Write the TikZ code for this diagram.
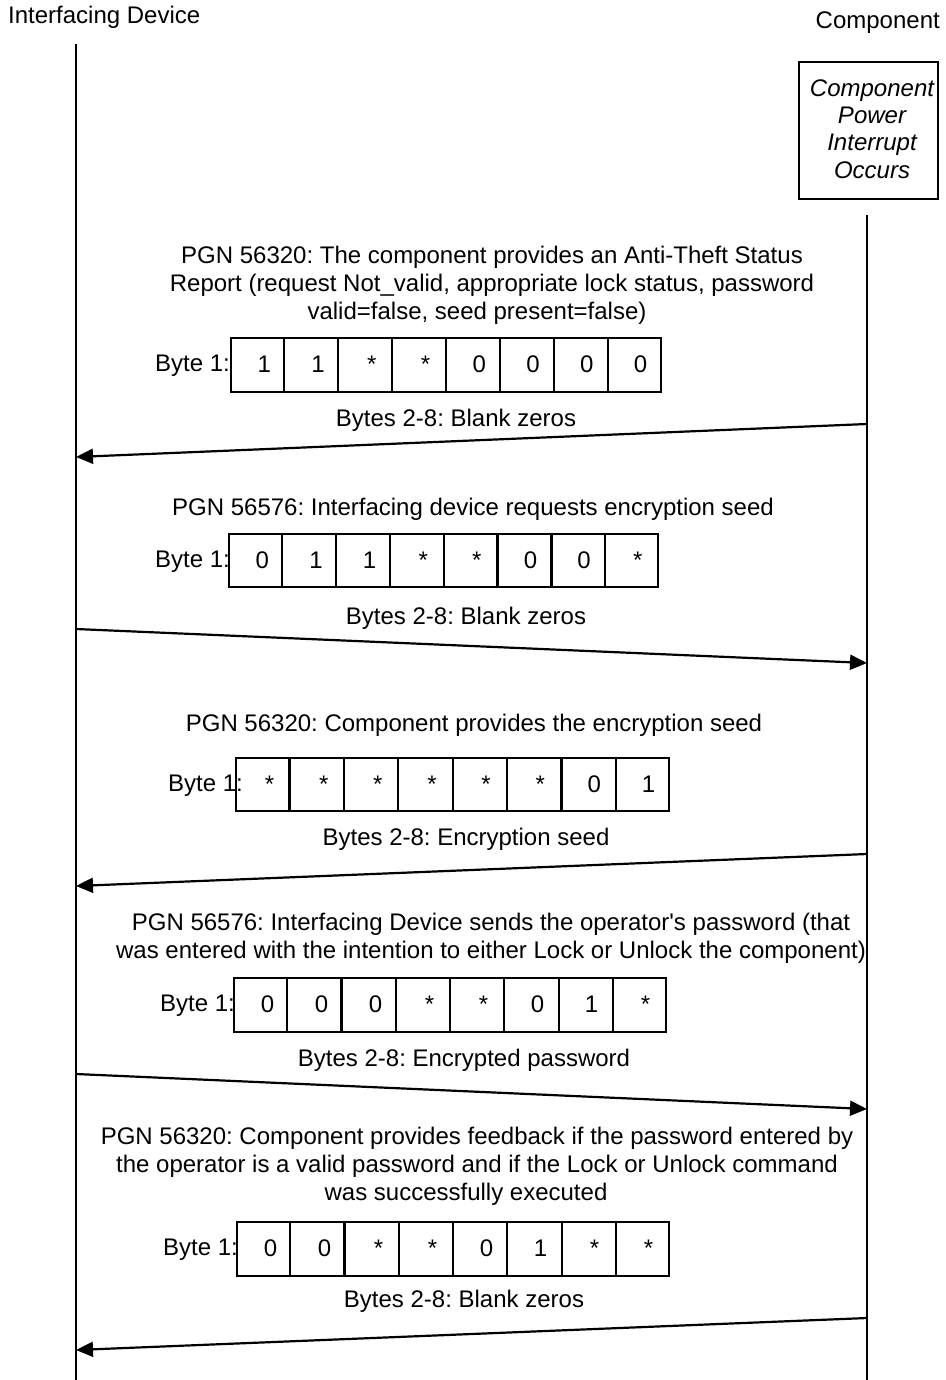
\documentclass[tikz,border=0pt]{standalone}
\usepackage{fontspec}
\setmainfont{Liberation Sans}
\usetikzlibrary{arrows.meta,calc}
\newcommand\bytebox[7]{%
  % #1 name, #2 x0, #3 y0, #4 width, #5 height, #6 values, #7 label x
  \node[cellbox, minimum width=#4pt, minimum height=#5pt, anchor=north west] (#1) at (#2,#3) {};
  \foreach \k in {1,...,7}
    \draw[boxline] ($(#1.north west)!\k/8!(#1.north east)$) -- ($(#1.south west)!\k/8!(#1.south east)$);
  \foreach \v [count=\k] in {#6}
    \node[txt, anchor=base] (#1v\k) at ({#2+(\k-0.5)*#4/8+7.5},{#3+#5/2+8.6}) {\v};
  \node[txt, anchor=base west] (#1lbl) at (#7,{#3+#5/2+7.5}) {Byte 1:};
}
\begin{document}
\frenchspacing
\begin{tikzpicture}[x=1pt,y=-1pt,
  txt/.style={font=\fontsize{24}{28}\selectfont, inner sep=0pt},
  life/.style={line width=2.6pt},
  boxline/.style={line width=2.2pt},
  cellbox/.style={draw, line width=2.2pt, inner sep=0pt},
  msg/.style={line width=2.2pt, -{Triangle[length=17pt,width=15pt]}}]
\useasboundingbox (0,0) rectangle (945,1380);

% headers
\node[txt, anchor=base west] (hL) at (8,24) {Interfacing Device};
\node[txt, anchor=base east] (hR) at (940,29) {Component};

% component box
\node[cellbox, minimum width=139pt, minimum height=137pt, anchor=north west] (cbox) at (798,61) {};
\node[txt, align=center, font=\fontsize{24}{27.3}\selectfont\itshape, anchor=center] (ctext) at (872,129) {Component\\Power\\Interrupt\\Occurs};

% lifelines
\coordinate (Ltop) at (76,44);
\coordinate (Lbot) at (76,1380);
\coordinate (Rtop) at (867,215);
\coordinate (Rbot) at (867,1380);
\draw[life] (Ltop) -- (Lbot);
\draw[life] (Rtop) -- (Rbot);

% message 1
\node[txt, align=center, anchor=north] (t1) at (492,246) {PGN 56320: The component provides an Anti-Theft Status\\Report (request Not\_valid, appropriate lock status, password\\valid=false, seed present=false)\hspace*{30pt}};
\bytebox{b1}{230}{337}{430}{54}{1,1,*,*,0,0,0,0}{155}
\node[txt, anchor=base] (z1) at (456,426) {Bytes 2-8: Blank zeros};
\coordinate (m1s) at (867,424);
\coordinate (m1e) at (76,457);
\draw[msg] (m1s) -- (m1e);

% message 2
\node[txt, anchor=base] (t2) at (473,515) {PGN 56576: Interfacing device requests encryption seed};
\bytebox{b2}{228}{533}{429}{53}{0,1,1,*,*,0,0,*}{155}
\node[txt, anchor=base] (z2) at (466,624) {Bytes 2-8: Blank zeros};
\coordinate (m2s) at (76,629);
\coordinate (m2e) at (867,663);
\draw[msg] (m2s) -- (m2e);

% message 3
\node[txt, anchor=base] (t3) at (474,731) {PGN 56320: Component provides the encryption seed};
\bytebox{b3}{235}{757}{433}{53}{*,*,*,*,*,*,0,1}{168}
\node[txt, anchor=base] (z3) at (466,845) {Bytes 2-8: Encryption seed};
\coordinate (m3s) at (867,854);
\coordinate (m3e) at (76,886);
\draw[msg] (m3s) -- (m3e);

% message 4
\node[txt, align=center, anchor=north] (t4) at (491,913) {PGN 56576: Interfacing Device sends the operator\textquotesingle s password (that\\was entered with the intention to either Lock or Unlock the component)};
\bytebox{b4}{233}{977}{432}{54}{0,0,0,*,*,0,1,*}{160}
\node[txt, anchor=base] (z4) at (464,1066) {Bytes 2-8: Encrypted password};
\coordinate (m4s) at (76,1074);
\coordinate (m4e) at (867,1109);
\draw[msg] (m4s) -- (m4e);

% message 5
\node[txt, align=center, anchor=north] (t5) at (477,1127) {PGN 56320: Component provides feedback if the password entered by\\the operator is a valid password and if the Lock or Unlock command\\was successfully executed\hspace*{22pt}};
\bytebox{b5}{236}{1221}{432}{54}{0,0,*,*,0,1,*,*}{163}
\node[txt, anchor=base] (z5) at (464,1307) {Bytes 2-8: Blank zeros};
\coordinate (m5s) at (867,1318);
\coordinate (m5e) at (76,1350);
\draw[msg] (m5s) -- (m5e);
\end{tikzpicture}
\end{document}
